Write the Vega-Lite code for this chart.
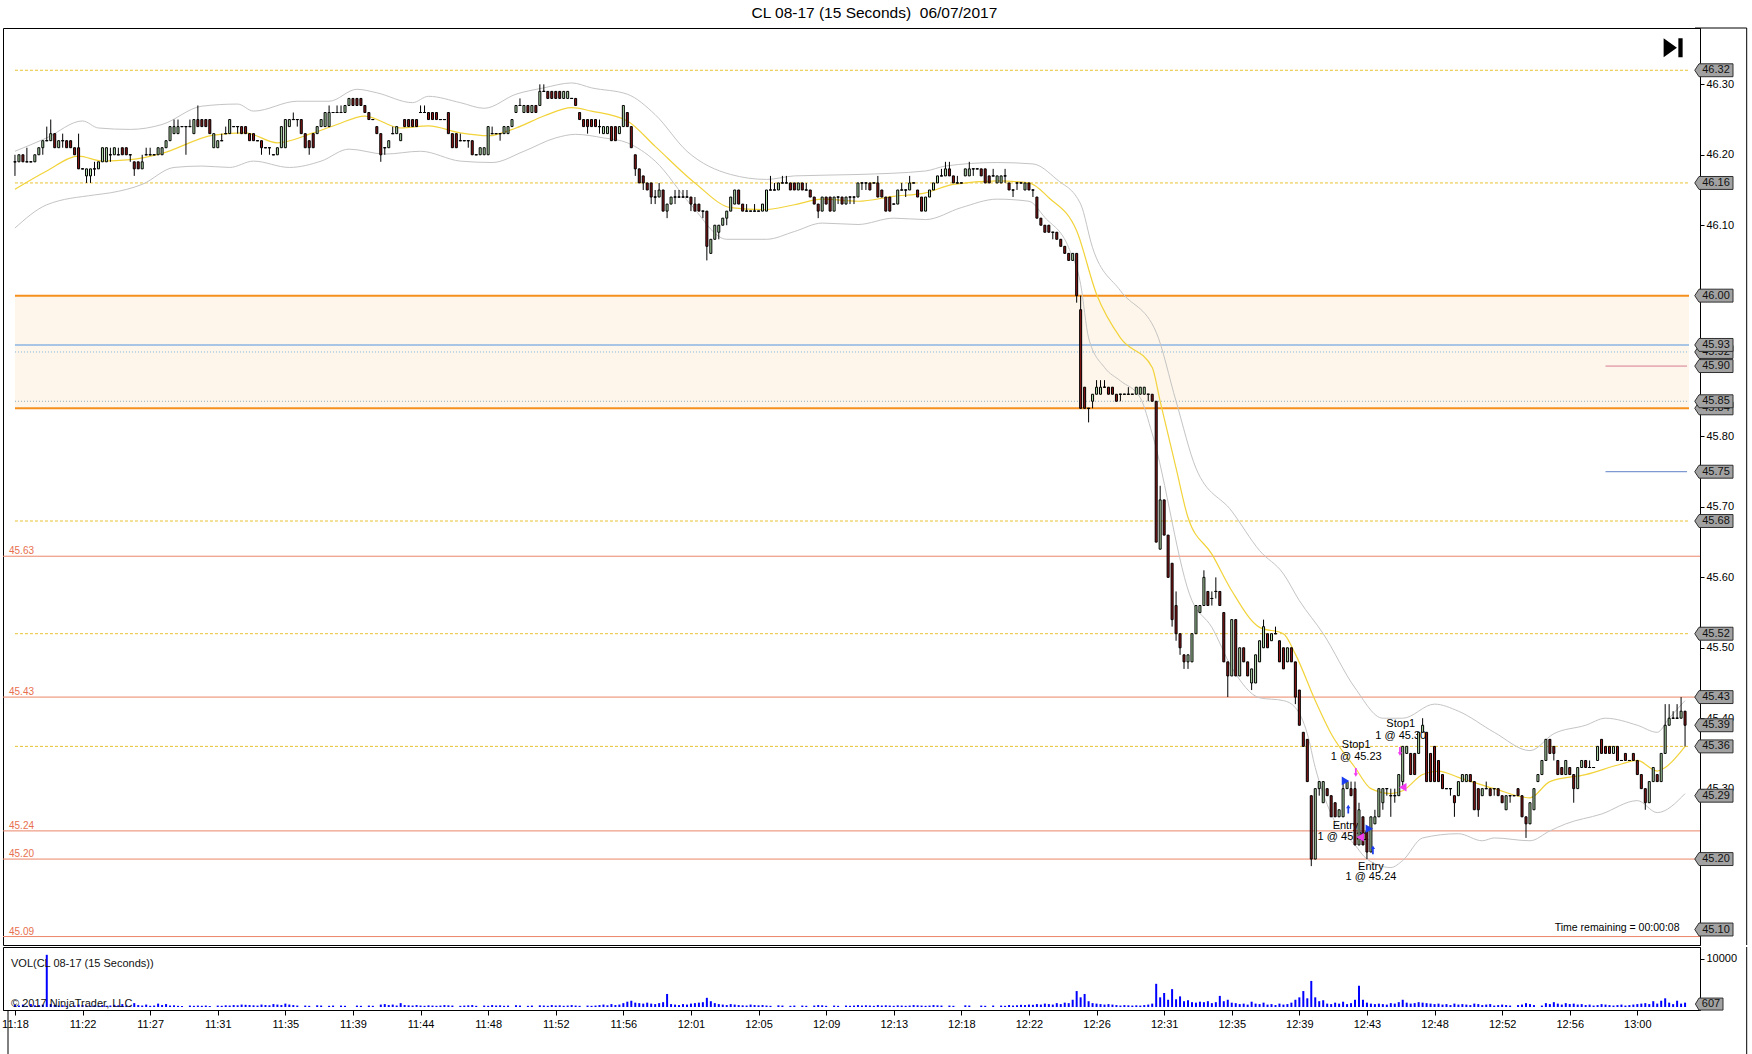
{
"$schema": "https://vega.github.io/schema/vega-lite/v6.json",
"background": "#ffffff",
"padding": {"left": 1, "top": 6, "right": 0, "bottom": 0},
"title": {"text": "CL 08-17 (15 Seconds)\u00a0 06/07/2017", "anchor": "middle", "frame": "bounds", "fontSize": 15.5, "fontWeight": "normal", "font": "Liberation Sans", "color": "#000000", "offset": 5.5},
"spacing": 0,
"config": {"view": {"stroke": "#000000", "strokeWidth": 1}, "font": "Liberation Sans", "axis": {"grid": false, "domainColor": "#000000", "tickColor": "#000000", "labelColor": "#000000", "labelFont": "Liberation Sans", "labelFontSize": 11}},
"datasets": {
"bars": [
{"i":0,"o":46.19,"h":46.20,"l":46.17,"c":46.19,"v":450},
{"i":1,"o":46.19,"h":46.20,"l":46.19,"c":46.20,"v":300},
{"i":2,"o":46.20,"h":46.20,"l":46.19,"c":46.19,"v":500},
{"i":3,"o":46.19,"h":46.21,"l":46.19,"c":46.19,"v":250},
{"i":4,"o":46.19,"h":46.19,"l":46.19,"c":46.19,"v":600},
{"i":5,"o":46.19,"h":46.20,"l":46.19,"c":46.20,"v":350},
{"i":6,"o":46.20,"h":46.21,"l":46.20,"c":46.21,"v":400},
{"i":7,"o":46.21,"h":46.22,"l":46.20,"c":46.22,"v":500},
{"i":8,"o":46.22,"h":46.24,"l":46.22,"c":46.22,"v":10800},
{"i":9,"o":46.22,"h":46.25,"l":46.22,"c":46.23,"v":600},
{"i":10,"o":46.23,"h":46.23,"l":46.21,"c":46.21,"v":400},
{"i":11,"o":46.21,"h":46.22,"l":46.21,"c":46.22,"v":300},
{"i":12,"o":46.22,"h":46.23,"l":46.21,"c":46.22,"v":350},
{"i":13,"o":46.22,"h":46.22,"l":46.21,"c":46.21,"v":250},
{"i":14,"o":46.22,"h":46.22,"l":46.21,"c":46.21,"v":200},
{"i":15,"o":46.21,"h":46.21,"l":46.20,"c":46.20,"v":300},
{"i":16,"o":46.21,"h":46.23,"l":46.18,"c":46.18,"v":500},
{"i":17,"o":46.18,"h":46.18,"l":46.18,"c":46.18,"v":400},
{"i":18,"o":46.17,"h":46.18,"l":46.16,"c":46.18,"v":300},
{"i":19,"o":46.17,"h":46.18,"l":46.16,"c":46.18,"v":250},
{"i":20,"o":46.18,"h":46.19,"l":46.17,"c":46.18,"v":350},
{"i":21,"o":46.18,"h":46.19,"l":46.18,"c":46.19,"v":300},
{"i":22,"o":46.19,"h":46.21,"l":46.19,"c":46.21,"v":400},
{"i":23,"o":46.19,"h":46.21,"l":46.19,"c":46.21,"v":250},
{"i":24,"o":46.20,"h":46.21,"l":46.19,"c":46.20,"v":300},
{"i":25,"o":46.20,"h":46.21,"l":46.20,"c":46.21,"v":450},
{"i":26,"o":46.20,"h":46.21,"l":46.20,"c":46.20,"v":350},
{"i":27,"o":46.21,"h":46.21,"l":46.20,"c":46.20,"v":600},
{"i":28,"o":46.21,"h":46.21,"l":46.20,"c":46.20,"v":300},
{"i":29,"o":46.20,"h":46.20,"l":46.19,"c":46.20,"v":250},
{"i":30,"o":46.19,"h":46.19,"l":46.17,"c":46.18,"v":800},
{"i":31,"o":46.19,"h":46.19,"l":46.18,"c":46.18,"v":400},
{"i":32,"o":46.18,"h":46.20,"l":46.18,"c":46.19,"v":300},
{"i":33,"o":46.20,"h":46.21,"l":46.20,"c":46.20,"v":500},
{"i":34,"o":46.20,"h":46.21,"l":46.20,"c":46.20,"v":250},
{"i":35,"o":46.20,"h":46.20,"l":46.20,"c":46.20,"v":300},
{"i":36,"o":46.20,"h":46.21,"l":46.20,"c":46.21,"v":700},
{"i":37,"o":46.20,"h":46.21,"l":46.20,"c":46.21,"v":400},
{"i":38,"o":46.21,"h":46.22,"l":46.21,"c":46.22,"v":600},
{"i":39,"o":46.22,"h":46.24,"l":46.22,"c":46.24,"v":300},
{"i":40,"o":46.23,"h":46.25,"l":46.23,"c":46.24,"v":350},
{"i":41,"o":46.23,"h":46.25,"l":46.23,"c":46.24,"v":250},
{"i":42,"o":46.24,"h":46.24,"l":46.24,"c":46.24,"v":200},
{"i":43,"o":46.24,"h":46.24,"l":46.20,"c":46.24,"v":0},
{"i":44,"o":46.24,"h":46.25,"l":46.24,"c":46.24,"v":300},
{"i":45,"o":46.23,"h":46.25,"l":46.23,"c":46.25,"v":250},
{"i":46,"o":46.25,"h":46.27,"l":46.24,"c":46.24,"v":300},
{"i":47,"o":46.25,"h":46.25,"l":46.24,"c":46.24,"v":250},
{"i":48,"o":46.25,"h":46.25,"l":46.24,"c":46.24,"v":300},
{"i":49,"o":46.25,"h":46.25,"l":46.23,"c":46.23,"v":200},
{"i":50,"o":46.21,"h":46.23,"l":46.21,"c":46.23,"v":0},
{"i":51,"o":46.21,"h":46.22,"l":46.21,"c":46.22,"v":300},
{"i":52,"o":46.22,"h":46.23,"l":46.22,"c":46.22,"v":250},
{"i":53,"o":46.23,"h":46.24,"l":46.23,"c":46.23,"v":350},
{"i":54,"o":46.23,"h":46.25,"l":46.23,"c":46.25,"v":300},
{"i":55,"o":46.24,"h":46.24,"l":46.24,"c":46.24,"v":400},
{"i":56,"o":46.24,"h":46.24,"l":46.23,"c":46.24,"v":350},
{"i":57,"o":46.24,"h":46.24,"l":46.23,"c":46.23,"v":500},
{"i":58,"o":46.24,"h":46.24,"l":46.23,"c":46.23,"v":450},
{"i":59,"o":46.23,"h":46.23,"l":46.22,"c":46.22,"v":400},
{"i":60,"o":46.23,"h":46.23,"l":46.22,"c":46.22,"v":350},
{"i":61,"o":46.22,"h":46.22,"l":46.22,"c":46.22,"v":300},
{"i":62,"o":46.22,"h":46.22,"l":46.20,"c":46.21,"v":500},
{"i":63,"o":46.21,"h":46.21,"l":46.21,"c":46.21,"v":400},
{"i":64,"o":46.21,"h":46.21,"l":46.20,"c":46.21,"v":350},
{"i":65,"o":46.20,"h":46.20,"l":46.20,"c":46.20,"v":600},
{"i":66,"o":46.20,"h":46.21,"l":46.20,"c":46.21,"v":500},
{"i":67,"o":46.21,"h":46.24,"l":46.21,"c":46.24,"v":400},
{"i":68,"o":46.21,"h":46.25,"l":46.21,"c":46.25,"v":700},
{"i":69,"o":46.24,"h":46.25,"l":46.24,"c":46.25,"v":500},
{"i":70,"o":46.25,"h":46.26,"l":46.25,"c":46.25,"v":400},
{"i":71,"o":46.25,"h":46.25,"l":46.24,"c":46.25,"v":300},
{"i":72,"o":46.25,"h":46.25,"l":46.23,"c":46.23,"v":0},
{"i":73,"o":46.23,"h":46.23,"l":46.21,"c":46.21,"v":300},
{"i":74,"o":46.22,"h":46.22,"l":46.20,"c":46.21,"v":250},
{"i":75,"o":46.23,"h":46.23,"l":46.21,"c":46.21,"v":0},
{"i":76,"o":46.23,"h":46.24,"l":46.23,"c":46.24,"v":350},
{"i":77,"o":46.24,"h":46.25,"l":46.24,"c":46.25,"v":300},
{"i":78,"o":46.24,"h":46.26,"l":46.24,"c":46.26,"v":0},
{"i":79,"o":46.24,"h":46.27,"l":46.24,"c":46.26,"v":250},
{"i":80,"o":46.26,"h":46.26,"l":46.26,"c":46.26,"v":300},
{"i":81,"o":46.26,"h":46.27,"l":46.26,"c":46.26,"v":0},
{"i":82,"o":46.26,"h":46.27,"l":46.26,"c":46.26,"v":300},
{"i":83,"o":46.26,"h":46.27,"l":46.26,"c":46.27,"v":250},
{"i":84,"o":46.27,"h":46.28,"l":46.27,"c":46.28,"v":0},
{"i":85,"o":46.28,"h":46.28,"l":46.27,"c":46.27,"v":0},
{"i":86,"o":46.28,"h":46.28,"l":46.27,"c":46.27,"v":300},
{"i":87,"o":46.28,"h":46.28,"l":46.27,"c":46.27,"v":250},
{"i":88,"o":46.27,"h":46.27,"l":46.26,"c":46.26,"v":0},
{"i":89,"o":46.26,"h":46.26,"l":46.25,"c":46.25,"v":300},
{"i":90,"o":46.25,"h":46.25,"l":46.25,"c":46.25,"v":250},
{"i":91,"o":46.24,"h":46.24,"l":46.23,"c":46.23,"v":0},
{"i":92,"o":46.23,"h":46.23,"l":46.19,"c":46.20,"v":500},
{"i":93,"o":46.21,"h":46.21,"l":46.20,"c":46.21,"v":600},
{"i":94,"o":46.21,"h":46.22,"l":46.21,"c":46.22,"v":400},
{"i":95,"o":46.23,"h":46.24,"l":46.23,"c":46.23,"v":500},
{"i":96,"o":46.23,"h":46.24,"l":46.23,"c":46.24,"v":300},
{"i":97,"o":46.22,"h":46.23,"l":46.22,"c":46.23,"v":800},
{"i":98,"o":46.25,"h":46.25,"l":46.24,"c":46.24,"v":400},
{"i":99,"o":46.25,"h":46.25,"l":46.24,"c":46.24,"v":350},
{"i":100,"o":46.25,"h":46.25,"l":46.24,"c":46.24,"v":300},
{"i":101,"o":46.25,"h":46.25,"l":46.24,"c":46.24,"v":400},
{"i":102,"o":46.26,"h":46.27,"l":46.26,"c":46.26,"v":300},
{"i":103,"o":46.26,"h":46.27,"l":46.26,"c":46.26,"v":250},
{"i":104,"o":46.26,"h":46.26,"l":46.25,"c":46.25,"v":350},
{"i":105,"o":46.26,"h":46.26,"l":46.25,"c":46.25,"v":300},
{"i":106,"o":46.26,"h":46.26,"l":46.25,"c":46.25,"v":250},
{"i":107,"o":46.25,"h":46.25,"l":46.25,"c":46.25,"v":300},
{"i":108,"o":46.25,"h":46.25,"l":46.25,"c":46.25,"v":400},
{"i":109,"o":46.26,"h":46.26,"l":46.23,"c":46.23,"v":350},
{"i":110,"o":46.23,"h":46.23,"l":46.21,"c":46.21,"v":300},
{"i":111,"o":46.23,"h":46.23,"l":46.21,"c":46.21,"v":0},
{"i":112,"o":46.22,"h":46.23,"l":46.22,"c":46.22,"v":250},
{"i":113,"o":46.22,"h":46.22,"l":46.22,"c":46.22,"v":300},
{"i":114,"o":46.22,"h":46.22,"l":46.21,"c":46.22,"v":350},
{"i":115,"o":46.22,"h":46.22,"l":46.20,"c":46.20,"v":400},
{"i":116,"o":46.20,"h":46.20,"l":46.20,"c":46.20,"v":250},
{"i":117,"o":46.20,"h":46.21,"l":46.20,"c":46.21,"v":0},
{"i":118,"o":46.20,"h":46.21,"l":46.20,"c":46.21,"v":300},
{"i":119,"o":46.20,"h":46.24,"l":46.20,"c":46.24,"v":250},
{"i":120,"o":46.23,"h":46.24,"l":46.23,"c":46.23,"v":400},
{"i":121,"o":46.23,"h":46.23,"l":46.23,"c":46.23,"v":300},
{"i":122,"o":46.23,"h":46.23,"l":46.22,"c":46.23,"v":350},
{"i":123,"o":46.23,"h":46.24,"l":46.23,"c":46.24,"v":250},
{"i":124,"o":46.23,"h":46.24,"l":46.23,"c":46.24,"v":300},
{"i":125,"o":46.24,"h":46.25,"l":46.24,"c":46.25,"v":0},
{"i":126,"o":46.26,"h":46.27,"l":46.26,"c":46.27,"v":350},
{"i":127,"o":46.27,"h":46.28,"l":46.27,"c":46.27,"v":300},
{"i":128,"o":46.26,"h":46.27,"l":46.26,"c":46.27,"v":0},
{"i":129,"o":46.27,"h":46.27,"l":46.26,"c":46.26,"v":250},
{"i":130,"o":46.26,"h":46.27,"l":46.26,"c":46.27,"v":300},
{"i":131,"o":46.27,"h":46.27,"l":46.26,"c":46.26,"v":0},
{"i":132,"o":46.27,"h":46.30,"l":46.27,"c":46.29,"v":350},
{"i":133,"o":46.29,"h":46.30,"l":46.29,"c":46.29,"v":300},
{"i":134,"o":46.29,"h":46.29,"l":46.28,"c":46.28,"v":250},
{"i":135,"o":46.29,"h":46.29,"l":46.28,"c":46.28,"v":400},
{"i":136,"o":46.29,"h":46.29,"l":46.28,"c":46.28,"v":300},
{"i":137,"o":46.29,"h":46.29,"l":46.28,"c":46.28,"v":350},
{"i":138,"o":46.28,"h":46.29,"l":46.28,"c":46.29,"v":250},
{"i":139,"o":46.28,"h":46.29,"l":46.28,"c":46.29,"v":300},
{"i":140,"o":46.28,"h":46.28,"l":46.28,"c":46.28,"v":400},
{"i":141,"o":46.28,"h":46.28,"l":46.27,"c":46.27,"v":300},
{"i":142,"o":46.26,"h":46.26,"l":46.25,"c":46.25,"v":250},
{"i":143,"o":46.25,"h":46.25,"l":46.24,"c":46.24,"v":0},
{"i":144,"o":46.25,"h":46.25,"l":46.23,"c":46.24,"v":300},
{"i":145,"o":46.25,"h":46.25,"l":46.24,"c":46.24,"v":250},
{"i":146,"o":46.25,"h":46.25,"l":46.24,"c":46.24,"v":300},
{"i":147,"o":46.24,"h":46.25,"l":46.23,"c":46.24,"v":400},
{"i":148,"o":46.23,"h":46.24,"l":46.23,"c":46.24,"v":500},
{"i":149,"o":46.23,"h":46.24,"l":46.23,"c":46.24,"v":350},
{"i":150,"o":46.24,"h":46.24,"l":46.22,"c":46.22,"v":600},
{"i":151,"o":46.24,"h":46.24,"l":46.22,"c":46.22,"v":400},
{"i":152,"o":46.23,"h":46.24,"l":46.23,"c":46.24,"v":500},
{"i":153,"o":46.24,"h":46.27,"l":46.24,"c":46.27,"v":800},
{"i":154,"o":46.26,"h":46.26,"l":46.24,"c":46.24,"v":1100},
{"i":155,"o":46.24,"h":46.24,"l":46.21,"c":46.21,"v":1300},
{"i":156,"o":46.20,"h":46.20,"l":46.17,"c":46.18,"v":900},
{"i":157,"o":46.18,"h":46.18,"l":46.16,"c":46.16,"v":800},
{"i":158,"o":46.17,"h":46.17,"l":46.15,"c":46.16,"v":700},
{"i":159,"o":46.16,"h":46.16,"l":46.15,"c":46.15,"v":900},
{"i":160,"o":46.16,"h":46.16,"l":46.13,"c":46.14,"v":700},
{"i":161,"o":46.14,"h":46.15,"l":46.13,"c":46.14,"v":600},
{"i":162,"o":46.14,"h":46.16,"l":46.14,"c":46.15,"v":800},
{"i":163,"o":46.15,"h":46.15,"l":46.12,"c":46.12,"v":1000},
{"i":164,"o":46.12,"h":46.13,"l":46.11,"c":46.13,"v":2700},
{"i":165,"o":46.13,"h":46.14,"l":46.13,"c":46.14,"v":600},
{"i":166,"o":46.14,"h":46.15,"l":46.13,"c":46.14,"v":500},
{"i":167,"o":46.14,"h":46.15,"l":46.14,"c":46.14,"v":400},
{"i":168,"o":46.14,"h":46.15,"l":46.14,"c":46.14,"v":600},
{"i":169,"o":46.14,"h":46.15,"l":46.14,"c":46.14,"v":500},
{"i":170,"o":46.14,"h":46.14,"l":46.12,"c":46.13,"v":700},
{"i":171,"o":46.13,"h":46.14,"l":46.12,"c":46.12,"v":800},
{"i":172,"o":46.13,"h":46.13,"l":46.12,"c":46.12,"v":900},
{"i":173,"o":46.12,"h":46.12,"l":46.11,"c":46.12,"v":1000},
{"i":174,"o":46.12,"h":46.12,"l":46.05,"c":46.07,"v":1900},
{"i":175,"o":46.06,"h":46.08,"l":46.06,"c":46.08,"v":1200},
{"i":176,"o":46.08,"h":46.10,"l":46.08,"c":46.10,"v":800},
{"i":177,"o":46.09,"h":46.10,"l":46.08,"c":46.10,"v":600},
{"i":178,"o":46.10,"h":46.11,"l":46.10,"c":46.11,"v":500},
{"i":179,"o":46.11,"h":46.12,"l":46.10,"c":46.12,"v":400},
{"i":180,"o":46.12,"h":46.14,"l":46.12,"c":46.14,"v":600},
{"i":181,"o":46.13,"h":46.15,"l":46.13,"c":46.15,"v":500},
{"i":182,"o":46.15,"h":46.15,"l":46.13,"c":46.13,"v":400},
{"i":183,"o":46.13,"h":46.13,"l":46.12,"c":46.12,"v":350},
{"i":184,"o":46.12,"h":46.13,"l":46.12,"c":46.12,"v":300},
{"i":185,"o":46.12,"h":46.12,"l":46.12,"c":46.12,"v":500},
{"i":186,"o":46.12,"h":46.13,"l":46.12,"c":46.12,"v":400},
{"i":187,"o":46.12,"h":46.12,"l":46.12,"c":46.12,"v":350},
{"i":188,"o":46.12,"h":46.13,"l":46.12,"c":46.13,"v":400},
{"i":189,"o":46.12,"h":46.15,"l":46.12,"c":46.15,"v":300},
{"i":190,"o":46.15,"h":46.17,"l":46.15,"c":46.15,"v":250},
{"i":191,"o":46.15,"h":46.16,"l":46.15,"c":46.15,"v":0},
{"i":192,"o":46.15,"h":46.16,"l":46.15,"c":46.16,"v":350},
{"i":193,"o":46.16,"h":46.17,"l":46.16,"c":46.16,"v":300},
{"i":194,"o":46.16,"h":46.17,"l":46.16,"c":46.16,"v":0},
{"i":195,"o":46.16,"h":46.16,"l":46.15,"c":46.15,"v":250},
{"i":196,"o":46.16,"h":46.16,"l":46.15,"c":46.15,"v":300},
{"i":197,"o":46.15,"h":46.16,"l":46.15,"c":46.16,"v":0},
{"i":198,"o":46.16,"h":46.16,"l":46.15,"c":46.15,"v":300},
{"i":199,"o":46.15,"h":46.16,"l":46.15,"c":46.15,"v":250},
{"i":200,"o":46.15,"h":46.15,"l":46.14,"c":46.14,"v":0},
{"i":201,"o":46.14,"h":46.14,"l":46.13,"c":46.13,"v":300},
{"i":202,"o":46.13,"h":46.13,"l":46.11,"c":46.12,"v":400},
{"i":203,"o":46.12,"h":46.14,"l":46.12,"c":46.14,"v":350},
{"i":204,"o":46.14,"h":46.14,"l":46.13,"c":46.13,"v":250},
{"i":205,"o":46.14,"h":46.14,"l":46.12,"c":46.12,"v":0},
{"i":206,"o":46.12,"h":46.14,"l":46.12,"c":46.14,"v":300},
{"i":207,"o":46.14,"h":46.14,"l":46.13,"c":46.14,"v":250},
{"i":208,"o":46.14,"h":46.14,"l":46.13,"c":46.13,"v":0},
{"i":209,"o":46.13,"h":46.14,"l":46.13,"c":46.14,"v":300},
{"i":210,"o":46.14,"h":46.14,"l":46.13,"c":46.14,"v":250},
{"i":211,"o":46.14,"h":46.14,"l":46.13,"c":46.14,"v":300},
{"i":212,"o":46.14,"h":46.16,"l":46.14,"c":46.16,"v":400},
{"i":213,"o":46.16,"h":46.16,"l":46.15,"c":46.16,"v":300},
{"i":214,"o":46.16,"h":46.16,"l":46.15,"c":46.16,"v":350},
{"i":215,"o":46.16,"h":46.16,"l":46.15,"c":46.15,"v":300},
{"i":216,"o":46.16,"h":46.16,"l":46.16,"c":46.16,"v":250},
{"i":217,"o":46.16,"h":46.17,"l":46.14,"c":46.14,"v":400},
{"i":218,"o":46.15,"h":46.15,"l":46.14,"c":46.14,"v":300},
{"i":219,"o":46.14,"h":46.14,"l":46.12,"c":46.12,"v":350},
{"i":220,"o":46.14,"h":46.14,"l":46.12,"c":46.12,"v":300},
{"i":221,"o":46.13,"h":46.13,"l":46.13,"c":46.13,"v":250},
{"i":222,"o":46.13,"h":46.15,"l":46.13,"c":46.15,"v":350},
{"i":223,"o":46.15,"h":46.16,"l":46.15,"c":46.15,"v":300},
{"i":224,"o":46.15,"h":46.15,"l":46.14,"c":46.15,"v":250},
{"i":225,"o":46.15,"h":46.17,"l":46.15,"c":46.16,"v":300},
{"i":226,"o":46.16,"h":46.16,"l":46.16,"c":46.16,"v":400},
{"i":227,"o":46.15,"h":46.15,"l":46.14,"c":46.14,"v":350},
{"i":228,"o":46.14,"h":46.14,"l":46.12,"c":46.12,"v":300},
{"i":229,"o":46.12,"h":46.14,"l":46.12,"c":46.14,"v":250},
{"i":230,"o":46.14,"h":46.15,"l":46.14,"c":46.15,"v":300},
{"i":231,"o":46.15,"h":46.16,"l":46.15,"c":46.16,"v":400},
{"i":232,"o":46.16,"h":46.17,"l":46.16,"c":46.17,"v":350},
{"i":233,"o":46.17,"h":46.18,"l":46.17,"c":46.17,"v":300},
{"i":234,"o":46.17,"h":46.19,"l":46.17,"c":46.18,"v":0},
{"i":235,"o":46.18,"h":46.19,"l":46.17,"c":46.17,"v":300},
{"i":236,"o":46.17,"h":46.17,"l":46.16,"c":46.16,"v":250},
{"i":237,"o":46.16,"h":46.17,"l":46.16,"c":46.16,"v":0},
{"i":238,"o":46.16,"h":46.16,"l":46.16,"c":46.16,"v":0},
{"i":239,"o":46.17,"h":46.18,"l":46.17,"c":46.18,"v":350},
{"i":240,"o":46.17,"h":46.19,"l":46.17,"c":46.18,"v":300},
{"i":241,"o":46.18,"h":46.18,"l":46.17,"c":46.18,"v":0},
{"i":242,"o":46.18,"h":46.18,"l":46.18,"c":46.18,"v":0},
{"i":243,"o":46.18,"h":46.18,"l":46.17,"c":46.17,"v":300},
{"i":244,"o":46.18,"h":46.18,"l":46.16,"c":46.16,"v":250},
{"i":245,"o":46.17,"h":46.17,"l":46.16,"c":46.16,"v":0},
{"i":246,"o":46.17,"h":46.18,"l":46.17,"c":46.17,"v":300},
{"i":247,"o":46.16,"h":46.17,"l":46.16,"c":46.17,"v":0},
{"i":248,"o":46.16,"h":46.17,"l":46.16,"c":46.17,"v":300},
{"i":249,"o":46.17,"h":46.18,"l":46.16,"c":46.17,"v":250},
{"i":250,"o":46.16,"h":46.16,"l":46.15,"c":46.15,"v":400},
{"i":251,"o":46.15,"h":46.15,"l":46.14,"c":46.15,"v":300},
{"i":252,"o":46.16,"h":46.16,"l":46.15,"c":46.16,"v":350},
{"i":253,"o":46.16,"h":46.16,"l":46.16,"c":46.16,"v":450},
{"i":254,"o":46.15,"h":46.16,"l":46.15,"c":46.16,"v":400},
{"i":255,"o":46.16,"h":46.16,"l":46.15,"c":46.15,"v":500},
{"i":256,"o":46.15,"h":46.15,"l":46.14,"c":46.15,"v":450},
{"i":257,"o":46.14,"h":46.14,"l":46.11,"c":46.11,"v":600},
{"i":258,"o":46.11,"h":46.11,"l":46.10,"c":46.10,"v":500},
{"i":259,"o":46.10,"h":46.10,"l":46.09,"c":46.09,"v":700},
{"i":260,"o":46.10,"h":46.10,"l":46.09,"c":46.09,"v":600},
{"i":261,"o":46.09,"h":46.09,"l":46.08,"c":46.09,"v":500},
{"i":262,"o":46.09,"h":46.09,"l":46.08,"c":46.08,"v":800},
{"i":263,"o":46.08,"h":46.08,"l":46.07,"c":46.07,"v":600},
{"i":264,"o":46.07,"h":46.07,"l":46.06,"c":46.06,"v":900},
{"i":265,"o":46.06,"h":46.06,"l":46.05,"c":46.05,"v":800},
{"i":266,"o":46.05,"h":46.06,"l":46.05,"c":46.06,"v":1500},
{"i":267,"o":46.06,"h":46.06,"l":45.99,"c":46.00,"v":3300},
{"i":268,"o":45.98,"h":46.00,"l":45.84,"c":45.84,"v":2000},
{"i":269,"o":45.87,"h":45.87,"l":45.84,"c":45.84,"v":2700},
{"i":270,"o":45.84,"h":45.84,"l":45.82,"c":45.84,"v":1200},
{"i":271,"o":45.85,"h":45.86,"l":45.84,"c":45.86,"v":800},
{"i":272,"o":45.86,"h":45.88,"l":45.86,"c":45.87,"v":700},
{"i":273,"o":45.86,"h":45.88,"l":45.86,"c":45.87,"v":600},
{"i":274,"o":45.87,"h":45.88,"l":45.87,"c":45.87,"v":500},
{"i":275,"o":45.87,"h":45.87,"l":45.86,"c":45.86,"v":600},
{"i":276,"o":45.87,"h":45.87,"l":45.86,"c":45.86,"v":500},
{"i":277,"o":45.86,"h":45.86,"l":45.85,"c":45.85,"v":400},
{"i":278,"o":45.86,"h":45.86,"l":45.85,"c":45.86,"v":300},
{"i":279,"o":45.86,"h":45.86,"l":45.86,"c":45.86,"v":400},
{"i":280,"o":45.86,"h":45.87,"l":45.86,"c":45.86,"v":350},
{"i":281,"o":45.86,"h":45.86,"l":45.86,"c":45.86,"v":300},
{"i":282,"o":45.86,"h":45.87,"l":45.86,"c":45.87,"v":350},
{"i":283,"o":45.86,"h":45.87,"l":45.86,"c":45.87,"v":300},
{"i":284,"o":45.86,"h":45.87,"l":45.86,"c":45.87,"v":400},
{"i":285,"o":45.86,"h":45.86,"l":45.85,"c":45.86,"v":500},
{"i":286,"o":45.86,"h":45.86,"l":45.85,"c":45.85,"v":700},
{"i":287,"o":45.85,"h":45.85,"l":45.65,"c":45.65,"v":4800},
{"i":288,"o":45.64,"h":45.73,"l":45.64,"c":45.71,"v":2000},
{"i":289,"o":45.71,"h":45.71,"l":45.66,"c":45.66,"v":2900},
{"i":290,"o":45.66,"h":45.66,"l":45.60,"c":45.60,"v":1500},
{"i":291,"o":45.62,"h":45.62,"l":45.53,"c":45.54,"v":3700},
{"i":292,"o":45.56,"h":45.58,"l":45.51,"c":45.52,"v":1600},
{"i":293,"o":45.52,"h":45.52,"l":45.49,"c":45.50,"v":2200},
{"i":294,"o":45.49,"h":45.49,"l":45.47,"c":45.48,"v":1200},
{"i":295,"o":45.48,"h":45.49,"l":45.47,"c":45.49,"v":1400},
{"i":296,"o":45.48,"h":45.52,"l":45.48,"c":45.52,"v":1000},
{"i":297,"o":45.52,"h":45.56,"l":45.52,"c":45.56,"v":900},
{"i":298,"o":45.55,"h":45.56,"l":45.55,"c":45.56,"v":1100},
{"i":299,"o":45.56,"h":45.61,"l":45.56,"c":45.60,"v":1000},
{"i":300,"o":45.58,"h":45.58,"l":45.56,"c":45.56,"v":1200},
{"i":301,"o":45.57,"h":45.58,"l":45.56,"c":45.57,"v":800},
{"i":302,"o":45.58,"h":45.60,"l":45.57,"c":45.58,"v":1000},
{"i":303,"o":45.58,"h":45.58,"l":45.56,"c":45.56,"v":2300},
{"i":304,"o":45.55,"h":45.55,"l":45.48,"c":45.48,"v":1200},
{"i":305,"o":45.48,"h":45.48,"l":45.43,"c":45.46,"v":1500},
{"i":306,"o":45.46,"h":45.54,"l":45.46,"c":45.54,"v":900},
{"i":307,"o":45.54,"h":45.54,"l":45.46,"c":45.46,"v":800},
{"i":308,"o":45.46,"h":45.50,"l":45.46,"c":45.50,"v":600},
{"i":309,"o":45.50,"h":45.50,"l":45.48,"c":45.48,"v":700},
{"i":310,"o":45.48,"h":45.48,"l":45.46,"c":45.46,"v":500},
{"i":311,"o":45.45,"h":45.47,"l":45.44,"c":45.47,"v":1100},
{"i":312,"o":45.45,"h":45.49,"l":45.45,"c":45.49,"v":700},
{"i":313,"o":45.48,"h":45.51,"l":45.48,"c":45.51,"v":600},
{"i":314,"o":45.50,"h":45.54,"l":45.50,"c":45.53,"v":900},
{"i":315,"o":45.52,"h":45.52,"l":45.50,"c":45.50,"v":500},
{"i":316,"o":45.51,"h":45.52,"l":45.51,"c":45.52,"v":600},
{"i":317,"o":45.52,"h":45.53,"l":45.52,"c":45.52,"v":400},
{"i":318,"o":45.51,"h":45.51,"l":45.48,"c":45.48,"v":700},
{"i":319,"o":45.50,"h":45.50,"l":45.47,"c":45.47,"v":500},
{"i":320,"o":45.48,"h":45.50,"l":45.48,"c":45.50,"v":600},
{"i":321,"o":45.50,"h":45.50,"l":45.48,"c":45.48,"v":900},
{"i":322,"o":45.48,"h":45.48,"l":45.42,"c":45.43,"v":1500},
{"i":323,"o":45.44,"h":45.44,"l":45.39,"c":45.39,"v":2000},
{"i":324,"o":45.38,"h":45.38,"l":45.36,"c":45.36,"v":3300},
{"i":325,"o":45.37,"h":45.37,"l":45.31,"c":45.31,"v":1800},
{"i":326,"o":45.29,"h":45.29,"l":45.19,"c":45.20,"v":5400},
{"i":327,"o":45.20,"h":45.30,"l":45.20,"c":45.30,"v":2000},
{"i":328,"o":45.30,"h":45.31,"l":45.29,"c":45.31,"v":1200},
{"i":329,"o":45.28,"h":45.31,"l":45.28,"c":45.31,"v":1400},
{"i":330,"o":45.30,"h":45.30,"l":45.29,"c":45.29,"v":700},
{"i":331,"o":45.29,"h":45.29,"l":45.26,"c":45.26,"v":600},
{"i":332,"o":45.28,"h":45.28,"l":45.26,"c":45.26,"v":900},
{"i":333,"o":45.26,"h":45.27,"l":45.26,"c":45.27,"v":700},
{"i":334,"o":45.26,"h":45.31,"l":45.26,"c":45.30,"v":1100},
{"i":335,"o":45.30,"h":45.31,"l":45.30,"c":45.31,"v":600},
{"i":336,"o":45.30,"h":45.31,"l":45.29,"c":45.29,"v":800},
{"i":337,"o":45.30,"h":45.31,"l":45.22,"c":45.22,"v":1500},
{"i":338,"o":45.22,"h":45.28,"l":45.22,"c":45.27,"v":4400},
{"i":339,"o":45.26,"h":45.26,"l":45.22,"c":45.22,"v":1500},
{"i":340,"o":45.24,"h":45.24,"l":45.20,"c":45.21,"v":900},
{"i":341,"o":45.21,"h":45.26,"l":45.21,"c":45.26,"v":700},
{"i":342,"o":45.25,"h":45.27,"l":45.25,"c":45.26,"v":600},
{"i":343,"o":45.26,"h":45.30,"l":45.26,"c":45.30,"v":700},
{"i":344,"o":45.28,"h":45.30,"l":45.27,"c":45.30,"v":600},
{"i":345,"o":45.30,"h":45.30,"l":45.29,"c":45.30,"v":500},
{"i":346,"o":45.29,"h":45.30,"l":45.26,"c":45.29,"v":800},
{"i":347,"o":45.29,"h":45.30,"l":45.28,"c":45.29,"v":700},
{"i":348,"o":45.29,"h":45.32,"l":45.29,"c":45.32,"v":1000},
{"i":349,"o":45.31,"h":45.36,"l":45.30,"c":45.36,"v":1500},
{"i":350,"o":45.35,"h":45.36,"l":45.35,"c":45.36,"v":900},
{"i":351,"o":45.35,"h":45.35,"l":45.32,"c":45.32,"v":700},
{"i":352,"o":45.35,"h":45.35,"l":45.32,"c":45.32,"v":800},
{"i":353,"o":45.35,"h":45.38,"l":45.35,"c":45.38,"v":1000},
{"i":354,"o":45.38,"h":45.40,"l":45.38,"c":45.39,"v":900},
{"i":355,"o":45.38,"h":45.38,"l":45.31,"c":45.31,"v":800},
{"i":356,"o":45.35,"h":45.35,"l":45.31,"c":45.31,"v":700},
{"i":357,"o":45.36,"h":45.36,"l":45.31,"c":45.31,"v":600},
{"i":358,"o":45.34,"h":45.34,"l":45.31,"c":45.31,"v":700},
{"i":359,"o":45.32,"h":45.32,"l":45.30,"c":45.30,"v":500},
{"i":360,"o":45.30,"h":45.30,"l":45.30,"c":45.30,"v":600},
{"i":361,"o":45.30,"h":45.30,"l":45.29,"c":45.30,"v":400},
{"i":362,"o":45.29,"h":45.29,"l":45.26,"c":45.28,"v":700},
{"i":363,"o":45.29,"h":45.31,"l":45.29,"c":45.31,"v":500},
{"i":364,"o":45.31,"h":45.32,"l":45.31,"c":45.32,"v":600},
{"i":365,"o":45.31,"h":45.32,"l":45.31,"c":45.32,"v":500},
{"i":366,"o":45.32,"h":45.32,"l":45.31,"c":45.31,"v":400},
{"i":367,"o":45.31,"h":45.31,"l":45.27,"c":45.27,"v":700},
{"i":368,"o":45.30,"h":45.30,"l":45.26,"c":45.27,"v":600},
{"i":369,"o":45.29,"h":45.30,"l":45.29,"c":45.30,"v":400},
{"i":370,"o":45.30,"h":45.31,"l":45.30,"c":45.30,"v":500},
{"i":371,"o":45.30,"h":45.30,"l":45.29,"c":45.29,"v":600},
{"i":372,"o":45.30,"h":45.30,"l":45.29,"c":45.30,"v":300},
{"i":373,"o":45.30,"h":45.30,"l":45.29,"c":45.29,"v":400},
{"i":374,"o":45.29,"h":45.29,"l":45.28,"c":45.28,"v":500},
{"i":375,"o":45.27,"h":45.29,"l":45.27,"c":45.29,"v":400},
{"i":376,"o":45.29,"h":45.29,"l":45.28,"c":45.29,"v":300},
{"i":377,"o":45.29,"h":45.29,"l":45.29,"c":45.29,"v":0},
{"i":378,"o":45.30,"h":45.30,"l":45.29,"c":45.29,"v":400},
{"i":379,"o":45.29,"h":45.29,"l":45.26,"c":45.26,"v":500},
{"i":380,"o":45.26,"h":45.26,"l":45.23,"c":45.25,"v":800},
{"i":381,"o":45.25,"h":45.28,"l":45.25,"c":45.28,"v":600},
{"i":382,"o":45.27,"h":45.30,"l":45.27,"c":45.30,"v":400},
{"i":383,"o":45.31,"h":45.32,"l":45.31,"c":45.32,"v":0},
{"i":384,"o":45.32,"h":45.34,"l":45.32,"c":45.34,"v":300},
{"i":385,"o":45.34,"h":45.37,"l":45.34,"c":45.37,"v":800},
{"i":386,"o":45.37,"h":45.37,"l":45.35,"c":45.35,"v":600},
{"i":387,"o":45.36,"h":45.36,"l":45.34,"c":45.35,"v":1000},
{"i":388,"o":45.34,"h":45.34,"l":45.32,"c":45.32,"v":700},
{"i":389,"o":45.33,"h":45.33,"l":45.32,"c":45.32,"v":500},
{"i":390,"o":45.32,"h":45.34,"l":45.32,"c":45.34,"v":800},
{"i":391,"o":45.33,"h":45.33,"l":45.32,"c":45.32,"v":600},
{"i":392,"o":45.32,"h":45.32,"l":45.28,"c":45.30,"v":700},
{"i":393,"o":45.30,"h":45.33,"l":45.30,"c":45.33,"v":500},
{"i":394,"o":45.33,"h":45.34,"l":45.33,"c":45.34,"v":600},
{"i":395,"o":45.34,"h":45.34,"l":45.33,"c":45.33,"v":400},
{"i":396,"o":45.33,"h":45.34,"l":45.33,"c":45.33,"v":500},
{"i":397,"o":45.33,"h":45.33,"l":45.33,"c":45.33,"v":300},
{"i":398,"o":45.34,"h":45.36,"l":45.34,"c":45.36,"v":400},
{"i":399,"o":45.37,"h":45.37,"l":45.35,"c":45.35,"v":600},
{"i":400,"o":45.36,"h":45.36,"l":45.35,"c":45.35,"v":500},
{"i":401,"o":45.36,"h":45.36,"l":45.35,"c":45.35,"v":400},
{"i":402,"o":45.35,"h":45.36,"l":45.35,"c":45.36,"v":300},
{"i":403,"o":45.36,"h":45.36,"l":45.34,"c":45.34,"v":400},
{"i":404,"o":45.34,"h":45.34,"l":45.34,"c":45.34,"v":500},
{"i":405,"o":45.35,"h":45.35,"l":45.34,"c":45.34,"v":300},
{"i":406,"o":45.34,"h":45.34,"l":45.34,"c":45.34,"v":400},
{"i":407,"o":45.35,"h":45.35,"l":45.34,"c":45.34,"v":500},
{"i":408,"o":45.34,"h":45.34,"l":45.32,"c":45.32,"v":600},
{"i":409,"o":45.32,"h":45.32,"l":45.30,"c":45.30,"v":700},
{"i":410,"o":45.30,"h":45.30,"l":45.27,"c":45.28,"v":800},
{"i":411,"o":45.28,"h":45.31,"l":45.28,"c":45.31,"v":600},
{"i":412,"o":45.31,"h":45.33,"l":45.31,"c":45.33,"v":1200},
{"i":413,"o":45.32,"h":45.32,"l":45.31,"c":45.31,"v":700},
{"i":414,"o":45.31,"h":45.35,"l":45.31,"c":45.35,"v":1300},
{"i":415,"o":45.35,"h":45.42,"l":45.35,"c":45.39,"v":1800},
{"i":416,"o":45.39,"h":45.42,"l":45.39,"c":45.40,"v":900},
{"i":417,"o":45.40,"h":45.41,"l":45.40,"c":45.40,"v":600},
{"i":418,"o":45.40,"h":45.42,"l":45.40,"c":45.40,"v":1300},
{"i":419,"o":45.40,"h":45.43,"l":45.40,"c":45.41,"v":700},
{"i":420,"o":45.41,"h":45.41,"l":45.36,"c":45.39,"v":900}
],
"bands": [
{"s":"u","i":0,"p":46.205},{"s":"u","i":8,"p":46.224},{"s":"u","i":17,"p":46.248},{"s":"u","i":21,"p":46.238},{"s":"u","i":29,"p":46.236},{"s":"u","i":37,"p":46.243},{"s":"u","i":47,"p":46.269},{"s":"u","i":56,"p":46.272},{"s":"u","i":60,"p":46.262},{"s":"u","i":71,"p":46.276},{"s":"u","i":79,"p":46.276},{"s":"u","i":86,"p":46.293},{"s":"u","i":91,"p":46.288},{"s":"u","i":100,"p":46.274},{"s":"u","i":104,"p":46.283},{"s":"u","i":112,"p":46.274},{"s":"u","i":118,"p":46.266},{"s":"u","i":126,"p":46.286},{"s":"u","i":133,"p":46.295},{"s":"u","i":140,"p":46.302},{"s":"u","i":145,"p":46.295},{"s":"u","i":154,"p":46.286},{"s":"u","i":161,"p":46.257},{"s":"u","i":169,"p":46.205},{"s":"u","i":180,"p":46.172},{"s":"u","i":189,"p":46.165},{"s":"u","i":196,"p":46.170},{"s":"u","i":212,"p":46.172},{"s":"u","i":229,"p":46.177},{"s":"u","i":234,"p":46.184},{"s":"u","i":247,"p":46.189},{"s":"u","i":256,"p":46.187},{"s":"u","i":262,"p":46.165},{"s":"u","i":268,"p":46.130},{"s":"u","i":271,"p":46.068},{"s":"u","i":278,"p":46.007},{"s":"u","i":287,"p":45.948},{"s":"u","i":292,"p":45.850},{"s":"u","i":297,"p":45.755},{"s":"u","i":306,"p":45.694},{"s":"u","i":313,"p":45.638},{"s":"u","i":319,"p":45.605},{"s":"u","i":323,"p":45.567},{"s":"u","i":329,"p":45.520},{"s":"u","i":337,"p":45.443},{"s":"u","i":344,"p":45.400},{"s":"u","i":349,"p":45.400},{"s":"u","i":357,"p":45.420},{"s":"u","i":363,"p":45.410},{"s":"u","i":372,"p":45.380},{"s":"u","i":381,"p":45.354},{"s":"u","i":387,"p":45.378},{"s":"u","i":395,"p":45.390},{"s":"u","i":400,"p":45.400},{"s":"u","i":408,"p":45.390},{"s":"u","i":413,"p":45.380},{"s":"u","i":416,"p":45.400},{"s":"u","i":420,"p":45.425},
{"s":"m","i":0,"p":46.151},{"s":"m","i":8,"p":46.177},{"s":"m","i":16,"p":46.198},{"s":"m","i":22,"p":46.191},{"s":"m","i":29,"p":46.193},{"s":"m","i":37,"p":46.202},{"s":"m","i":50,"p":46.228},{"s":"m","i":58,"p":46.231},{"s":"m","i":66,"p":46.217},{"s":"m","i":75,"p":46.231},{"s":"m","i":81,"p":46.243},{"s":"m","i":88,"p":46.255},{"s":"m","i":97,"p":46.238},{"s":"m","i":104,"p":46.241},{"s":"m","i":112,"p":46.231},{"s":"m","i":119,"p":46.227},{"s":"m","i":126,"p":46.238},{"s":"m","i":133,"p":46.255},{"s":"m","i":140,"p":46.267},{"s":"m","i":145,"p":46.262},{"s":"m","i":154,"p":46.248},{"s":"m","i":161,"p":46.212},{"s":"m","i":171,"p":46.160},{"s":"m","i":180,"p":46.125},{"s":"m","i":188,"p":46.122},{"s":"m","i":196,"p":46.129},{"s":"m","i":203,"p":46.137},{"s":"m","i":212,"p":46.134},{"s":"m","i":221,"p":46.141},{"s":"m","i":229,"p":46.146},{"s":"m","i":236,"p":46.158},{"s":"m","i":247,"p":46.163},{"s":"m","i":255,"p":46.160},{"s":"m","i":260,"p":46.139},{"s":"m","i":267,"p":46.092},{"s":"m","i":272,"p":46.002},{"s":"m","i":278,"p":45.940},{"s":"m","i":286,"p":45.898},{"s":"m","i":288,"p":45.850},{"s":"m","i":292,"p":45.755},{"s":"m","i":295,"p":45.685},{"s":"m","i":301,"p":45.633},{"s":"m","i":306,"p":45.581},{"s":"m","i":313,"p":45.529},{"s":"m","i":319,"p":45.520},{"s":"m","i":322,"p":45.491},{"s":"m","i":327,"p":45.425},{"s":"m","i":331,"p":45.378},{"s":"m","i":337,"p":45.330},{"s":"m","i":341,"p":45.300},{"s":"m","i":346,"p":45.293},{"s":"m","i":349,"p":45.297},{"s":"m","i":354,"p":45.320},{"s":"m","i":358,"p":45.325},{"s":"m","i":363,"p":45.316},{"s":"m","i":372,"p":45.300},{"s":"m","i":381,"p":45.287},{"s":"m","i":386,"p":45.310},{"s":"m","i":395,"p":45.320},{"s":"m","i":404,"p":45.335},{"s":"m","i":408,"p":45.340},{"s":"m","i":413,"p":45.325},{"s":"m","i":415,"p":45.330},{"s":"m","i":420,"p":45.360},
{"s":"d","i":0,"p":46.096},{"s":"d","i":8,"p":46.129},{"s":"d","i":20,"p":46.143},{"s":"d","i":24,"p":46.146},{"s":"d","i":32,"p":46.158},{"s":"d","i":40,"p":46.182},{"s":"d","i":47,"p":46.184},{"s":"d","i":54,"p":46.182},{"s":"d","i":60,"p":46.191},{"s":"d","i":69,"p":46.182},{"s":"d","i":77,"p":46.191},{"s":"d","i":84,"p":46.208},{"s":"d","i":93,"p":46.201},{"s":"d","i":102,"p":46.205},{"s":"d","i":112,"p":46.191},{"s":"d","i":120,"p":46.189},{"s":"d","i":128,"p":46.205},{"s":"d","i":136,"p":46.224},{"s":"d","i":141,"p":46.229},{"s":"d","i":148,"p":46.224},{"s":"d","i":154,"p":46.217},{"s":"d","i":161,"p":46.191},{"s":"d","i":170,"p":46.129},{"s":"d","i":179,"p":46.080},{"s":"d","i":189,"p":46.080},{"s":"d","i":196,"p":46.091},{"s":"d","i":203,"p":46.103},{"s":"d","i":212,"p":46.101},{"s":"d","i":221,"p":46.110},{"s":"d","i":229,"p":46.108},{"s":"d","i":238,"p":46.125},{"s":"d","i":247,"p":46.137},{"s":"d","i":255,"p":46.134},{"s":"d","i":259,"p":46.111},{"s":"d","i":265,"p":46.068},{"s":"d","i":268,"p":46.016},{"s":"d","i":270,"p":45.940},{"s":"d","i":274,"p":45.898},{"s":"d","i":278,"p":45.879},{"s":"d","i":283,"p":45.855},{"s":"d","i":286,"p":45.804},{"s":"d","i":296,"p":45.567},{"s":"d","i":301,"p":45.529},{"s":"d","i":306,"p":45.472},{"s":"d","i":313,"p":45.429},{"s":"d","i":319,"p":45.425},{"s":"d","i":322,"p":45.415},{"s":"d","i":325,"p":45.378},{"s":"d","i":327,"p":45.330},{"s":"d","i":331,"p":45.264},{"s":"d","i":337,"p":45.220},{"s":"d","i":340,"p":45.200},{"s":"d","i":346,"p":45.188},{"s":"d","i":349,"p":45.198},{"s":"d","i":354,"p":45.230},{"s":"d","i":363,"p":45.236},{"s":"d","i":369,"p":45.226},{"s":"d","i":372,"p":45.230},{"s":"d","i":381,"p":45.226},{"s":"d","i":386,"p":45.240},{"s":"d","i":390,"p":45.250},{"s":"d","i":399,"p":45.264},{"s":"d","i":408,"p":45.283},{"s":"d","i":413,"p":45.266},{"s":"d","i":420,"p":45.293}
],
"levels": [
{"p":46.32,"k":"g"},{"p":46.16,"k":"g"},{"p":45.68,"k":"g"},{"p":45.52,"k":"g"},{"p":45.36,"k":"g"},
{"p":46.00,"k":"o"},{"p":45.84,"k":"o"},
{"p":45.93,"k":"b"},{"p":45.92,"k":"bd"},{"p":45.85,"k":"gd"},
{"p":45.63,"k":"s"},{"p":45.43,"k":"s"},{"p":45.24,"k":"s"},{"p":45.20,"k":"s"},{"p":45.09,"k":"s"},
{"p":45.90,"k":"sp"},{"p":45.75,"k":"sb"}
],
"notes": [
{"i":337.3,"p":45.362,"t":"Stop1"},{"i":337.3,"p":45.345,"t":"1 @ 45.23"},
{"i":348.5,"p":45.392,"t":"Stop1"},{"i":348.5,"p":45.375,"t":"1 @ 45.30"},
{"i":334.6,"p":45.247,"t":"Entry"},{"i":334,"p":45.232,"t":"1 @ 45.31"},
{"i":341,"p":45.189,"t":"Entry"},{"i":341,"p":45.174,"t":"1 @ 45.24"}
],
"marks": [
{"i":334.6,"p":45.311,"k":"bt"},{"i":335.3,"p":45.271,"k":"bu"},{"i":337.2,"p":45.323,"k":"pd"},{"i":338.3,"p":45.231,"k":"pt"},
{"i":340.6,"p":45.243,"k":"bt"},{"i":341.5,"p":45.213,"k":"bu"},{"i":348.3,"p":45.353,"k":"pd"},{"i":349,"p":45.302,"k":"pt"}
],
"tags": [
{"p":45.92,"z":0},{"p":45.84,"z":0},
{"p":46.32,"z":1},{"p":46.16,"z":1},{"p":46.00,"z":1},{"p":45.93,"z":1},{"p":45.90,"z":1},{"p":45.85,"z":1},{"p":45.75,"z":1},{"p":45.68,"z":1},{"p":45.52,"z":1},{"p":45.43,"z":1},{"p":45.39,"z":1},{"p":45.36,"z":1},{"p":45.29,"z":1},{"p":45.20,"z":1},{"p":45.10,"z":1}
]
},
"vconcat": [
{
"width": 1697, "height": 917,
"layer": [
{"data": {"values": [{"lo": 45.84, "hi": 46.00}]}, "mark": {"type": "rect", "color": "#fef6ea"},
 "encoding": {
  "x": {"datum": 0, "type": "quantitative", "scale": {"domain": [-1.75, 422.5], "nice": false, "zero": false}, "axis": null},
  "x2": {"datum": 421},
  "y": {"field": "hi", "type": "quantitative", "title": null, "scale": {"domain": [45.078, 46.38], "nice": false, "zero": false},
        "axis": {"orient": "right", "values": [45.3,45.4,45.5,45.6,45.7,45.8,46.1,46.2,46.3], "format": ".2f", "tickSize": 4, "labelPadding": 2, "title": null}},
  "y2": {"field": "lo"}}},
{"data": {"values": [{"a": 1}]}, "mark": {"type": "rule", "color": "#000000", "strokeWidth": 1},
 "encoding": {"x": {"datum": 435.5, "type": "quantitative", "axis": null}, "y": {"datum": 46.38, "type": "quantitative", "title": null}, "y2": {"datum": 45.078}}},
{"data": {"values": [{"a": 1}]}, "mark": {"type": "rule", "color": "#000000", "strokeWidth": 1},
 "encoding": {"x": {"datum": 422.5, "type": "quantitative", "axis": null}, "x2": {"datum": 435.5}, "y": {"datum": 46.38, "type": "quantitative", "title": null}}},
{"data": {"name": "levels"}, "transform": [{"filter": "datum.k == 'g'"}], "mark": {"type": "rule", "color": "#e8c232", "strokeDash": [3, 2], "strokeWidth": 1},
 "encoding": {"x": {"datum": 0, "type": "quantitative", "axis": null}, "x2": {"datum": 421}, "y": {"field": "p", "type": "quantitative", "title": null}}},
{"data": {"name": "levels"}, "transform": [{"filter": "datum.k == 'o'"}], "mark": {"type": "rule", "color": "#f5901f", "strokeWidth": 2},
 "encoding": {"x": {"datum": 0, "type": "quantitative", "axis": null}, "x2": {"datum": 421}, "y": {"field": "p", "type": "quantitative", "title": null}}},
{"data": {"name": "levels"}, "transform": [{"filter": "datum.k == 'b'"}], "mark": {"type": "rule", "color": "#a9c5e6", "strokeWidth": 2},
 "encoding": {"x": {"datum": 0, "type": "quantitative", "axis": null}, "x2": {"datum": 421}, "y": {"field": "p", "type": "quantitative", "title": null}}},
{"data": {"name": "levels"}, "transform": [{"filter": "datum.k == 'bd'"}], "mark": {"type": "rule", "color": "#7fb3dd", "strokeDash": [1, 2], "strokeWidth": 1},
 "encoding": {"x": {"datum": 0, "type": "quantitative", "axis": null}, "x2": {"datum": 421}, "y": {"field": "p", "type": "quantitative", "title": null}}},
{"data": {"name": "levels"}, "transform": [{"filter": "datum.k == 'gd'"}], "mark": {"type": "rule", "color": "#8ea8b8", "strokeDash": [1, 2], "strokeWidth": 1},
 "encoding": {"x": {"datum": 0, "type": "quantitative", "axis": null}, "x2": {"datum": 421}, "y": {"field": "p", "type": "quantitative", "title": null}}},
{"data": {"name": "levels"}, "transform": [{"filter": "datum.k == 's'"}], "mark": {"type": "rule", "color": "#ec8668", "strokeWidth": 1},
 "encoding": {"y": {"field": "p", "type": "quantitative", "title": null}}},
{"data": {"name": "levels"}, "transform": [{"filter": "datum.k == 's'"}], "mark": {"type": "text", "align": "left", "baseline": "bottom", "dx": 1, "dy": 0, "fontSize": 10, "color": "#e8704e"},
 "encoding": {"x": {"datum": -1.75, "type": "quantitative", "axis": null}, "y": {"field": "p", "type": "quantitative", "title": null}, "text": {"field": "p", "type": "quantitative", "format": ".2f"}}},
{"data": {"name": "levels"}, "transform": [{"filter": "datum.k == 'sp'"}], "mark": {"type": "rule", "color": "#d77b92", "strokeWidth": 1},
 "encoding": {"x": {"datum": 400, "type": "quantitative", "axis": null}, "x2": {"datum": 420.5}, "y": {"field": "p", "type": "quantitative", "title": null}}},
{"data": {"name": "levels"}, "transform": [{"filter": "datum.k == 'sb'"}], "mark": {"type": "rule", "color": "#5f7fc6", "strokeWidth": 1},
 "encoding": {"x": {"datum": 400, "type": "quantitative", "axis": null}, "x2": {"datum": 420.5}, "y": {"field": "p", "type": "quantitative", "title": null}}},
{"data": {"name": "bands"}, "transform": [{"filter": "datum.s != 'm'"}], "mark": {"type": "line", "color": "#c4c4c4", "strokeWidth": 1, "interpolate": "monotone"},
 "encoding": {"x": {"field": "i", "type": "quantitative", "axis": null}, "y": {"field": "p", "type": "quantitative", "title": null}, "detail": {"field": "s"}}},
{"data": {"name": "bands"}, "transform": [{"filter": "datum.s == 'm'"}], "mark": {"type": "line", "color": "#f2d33a", "strokeWidth": 1.2, "interpolate": "monotone"},
 "encoding": {"x": {"field": "i", "type": "quantitative", "axis": null}, "y": {"field": "p", "type": "quantitative", "title": null}}},
{"data": {"name": "notes"}, "mark": {"type": "text", "align": "center", "baseline": "middle", "fontSize": 11, "color": "#000000"},
 "encoding": {"x": {"field": "i", "type": "quantitative", "axis": null}, "y": {"field": "p", "type": "quantitative", "title": null}, "text": {"field": "t"}}},
{"data": {"name": "bars"}, "mark": {"type": "rule", "color": "#000000", "strokeWidth": 1},
 "encoding": {"x": {"field": "i", "type": "quantitative", "axis": null}, "y": {"field": "l", "type": "quantitative", "title": null}, "y2": {"field": "h"}}},
{"data": {"name": "bars"}, "mark": {"type": "bar", "size": 2, "stroke": "#000000", "strokeWidth": 1},
 "encoding": {"x": {"field": "i", "type": "quantitative", "axis": null}, "y": {"field": "o", "type": "quantitative", "title": null}, "y2": {"field": "c"},
  "fill": {"condition": {"test": "datum.c >= datum.o", "value": "#b6e2ae"}, "value": "#8e1616"}}},
{"data": {"name": "bars"}, "transform": [{"filter": "datum.o == datum.c"}], "mark": {"type": "tick", "orient": "horizontal", "size": 3, "thickness": 1, "color": "#000000", "opacity": 1},
 "encoding": {"x": {"field": "i", "type": "quantitative", "axis": null}, "y": {"field": "o", "type": "quantitative", "title": null}}},
{"data": {"name": "marks"}, "mark": {"type": "point", "filled": true, "opacity": 1, "strokeWidth": 0},
 "encoding": {"x": {"field": "i", "type": "quantitative", "axis": null}, "y": {"field": "p", "type": "quantitative", "title": null},
  "shape": {"field": "k", "type": "nominal", "legend": null, "scale": {"domain": ["bt", "pt", "bu", "pd"], "range": ["triangle-right", "triangle-left", "M0,-1L0.5,-0.2L0.2,-0.2L0.2,1L-0.2,1L-0.2,-0.2L-0.5,-0.2Z", "M0,1L0.5,0.2L0.2,0.2L0.2,-1L-0.2,-1L-0.2,0.2L-0.5,0.2Z"]}},
  "color": {"field": "k", "type": "nominal", "legend": null, "scale": {"domain": ["bt", "pt", "bu", "pd"], "range": ["#1c3cf0", "#f23cf0", "#1c3cf0", "#f23cf0"]}},
  "size": {"field": "k", "type": "nominal", "legend": null, "scale": {"domain": ["bt", "pt", "bu", "pd"], "range": [75, 75, 225, 225]}}}},
{"data": {"values": [{"i": 417, "p": 46.352}]}, "mark": {"type": "point", "shape": "M-1,-1L0.4,0L-1,1Z M0.55,-1L1,-1L1,1L0.55,1Z", "filled": true, "color": "#000000", "size": 361, "opacity": 1, "strokeWidth": 0},
 "encoding": {"x": {"field": "i", "type": "quantitative", "axis": null}, "y": {"field": "p", "type": "quantitative", "title": null}}},
{"data": {"values": [{"i": 418.6, "p": 45.102, "t": "Time remaining = 00:00:08"}]}, "mark": {"type": "text", "align": "right", "baseline": "middle", "fontSize": 10.5, "color": "#000000"},
 "encoding": {"x": {"field": "i", "type": "quantitative", "axis": null}, "y": {"field": "p", "type": "quantitative", "title": null}, "text": {"field": "t"}}},
{"data": {"name": "tags"}, "transform": [{"filter": "datum.z == 0"}], "mark": {"type": "point", "shape": "M-1.25,0L-1,-0.38L1,-0.38L1,0.38L-1,0.38Z", "filled": true, "fill": "#a2a2a2", "stroke": "#303030", "strokeWidth": 1, "size": 1156, "opacity": 1, "xOffset": 21},
 "encoding": {"x": {"datum": 422.5, "type": "quantitative", "axis": null}, "y": {"field": "p", "type": "quantitative", "title": null}}},
{"data": {"name": "tags"}, "transform": [{"filter": "datum.z == 0"}], "mark": {"type": "text", "align": "center", "baseline": "middle", "dx": 21, "fontSize": 11, "color": "#111111"},
 "encoding": {"x": {"datum": 422.5, "type": "quantitative", "axis": null}, "y": {"field": "p", "type": "quantitative", "title": null}, "text": {"field": "p", "type": "quantitative", "format": ".2f"}}},
{"data": {"name": "tags"}, "transform": [{"filter": "datum.z == 1"}], "mark": {"type": "point", "shape": "M-1.25,0L-1,-0.38L1,-0.38L1,0.38L-1,0.38Z", "filled": true, "fill": "#a2a2a2", "stroke": "#303030", "strokeWidth": 1, "size": 1156, "opacity": 1, "xOffset": 21},
 "encoding": {"x": {"datum": 422.5, "type": "quantitative", "axis": null}, "y": {"field": "p", "type": "quantitative", "title": null}}},
{"data": {"name": "tags"}, "transform": [{"filter": "datum.z == 1"}], "mark": {"type": "text", "align": "center", "baseline": "middle", "dx": 21, "fontSize": 11, "color": "#111111"},
 "encoding": {"x": {"datum": 422.5, "type": "quantitative", "axis": null}, "y": {"field": "p", "type": "quantitative", "title": null}, "text": {"field": "p", "type": "quantitative", "format": ".2f"}}}
]
},
{
"width": 1697, "height": 63,
"layer": [
{"data": {"name": "bars"}, "mark": {"type": "bar", "size": 2, "color": "#0000ff"},
 "encoding": {
  "x": {"field": "i", "type": "quantitative", "title": null, "scale": {"domain": [-1.75, 422.5], "nice": false, "zero": false},
        "axis": {"orient": "bottom", "values": [0,17,34,51,68,85,102,119,136,153,170,187,204,221,238,255,272,289,306,323,340,357,374,391,408],
                 "labelExpr": "['11:18','11:22','11:27','11:31','11:35','11:39','11:44','11:48','11:52','11:56','12:01','12:05','12:09','12:13','12:18','12:22','12:26','12:31','12:35','12:39','12:43','12:48','12:52','12:56','13:00'][round(datum.value/17)]",
                 "tickSize": 5, "labelPadding": 3, "labelFlush": 8, "labelFlushOffset": 7, "title": null}},
  "y": {"field": "v", "type": "quantitative", "title": null, "scale": {"domain": [-620, 12420], "nice": false, "zero": false}, "axis": {"orient": "right", "values": [10000], "format": "d", "tickSize": 4, "labelPadding": 2, "title": null}},
  "y2": {"datum": 0}}},
{"data": {"values": [{"a": 1}]}, "mark": {"type": "rule", "color": "#000000", "strokeWidth": 1},
 "encoding": {"x": {"datum": 435.5, "type": "quantitative", "title": null}, "y": {"datum": 12420, "type": "quantitative", "title": null}, "y2": {"datum": -10140}}},
{"data": {"values": [{"a": 1}]}, "mark": {"type": "rule", "color": "#000000", "strokeWidth": 1},
 "encoding": {"x": {"datum": -1.75, "type": "quantitative", "title": null}, "y": {"datum": -620, "type": "quantitative", "title": null}, "y2": {"datum": -10140}}},
{"data": {"values": [{"a": 1}]}, "mark": {"type": "rule", "color": "#000000", "strokeWidth": 1},
 "encoding": {"x": {"datum": -1.75, "type": "quantitative", "title": null}, "x2": {"datum": 435.5}, "y": {"datum": -10140, "type": "quantitative", "title": null}}},
{"data": {"values": [{"v": 8900, "t": "VOL(CL 08-17 (15 Seconds))"}, {"v": 620, "t": "© 2017 NinjaTrader, LLC"}]}, "mark": {"type": "text", "align": "left", "baseline": "middle", "dx": 3, "fontSize": 11, "color": "#111111"},
 "encoding": {"x": {"datum": -1.75, "type": "quantitative", "title": null}, "y": {"field": "v", "type": "quantitative", "title": null}, "text": {"field": "t"}}},
{"data": {"values": [{"v": 607}]}, "mark": {"type": "point", "shape": "M-1.3,0L-1,-0.5L1,-0.5L1,0.5L-1,0.5Z", "filled": true, "fill": "#a2a2a2", "stroke": "#303030", "strokeWidth": 1, "size": 576, "opacity": 1, "xOffset": 16},
 "encoding": {"x": {"datum": 422.5, "type": "quantitative", "title": null}, "y": {"field": "v", "type": "quantitative", "title": null}}},
{"data": {"values": [{"v": 607}]}, "mark": {"type": "text", "align": "center", "baseline": "middle", "dx": 16, "fontSize": 11, "color": "#111111"},
 "encoding": {"x": {"datum": 422.5, "type": "quantitative", "title": null}, "y": {"field": "v", "type": "quantitative", "title": null}, "text": {"field": "v", "type": "quantitative", "format": "d"}}}
]
}
]
}
